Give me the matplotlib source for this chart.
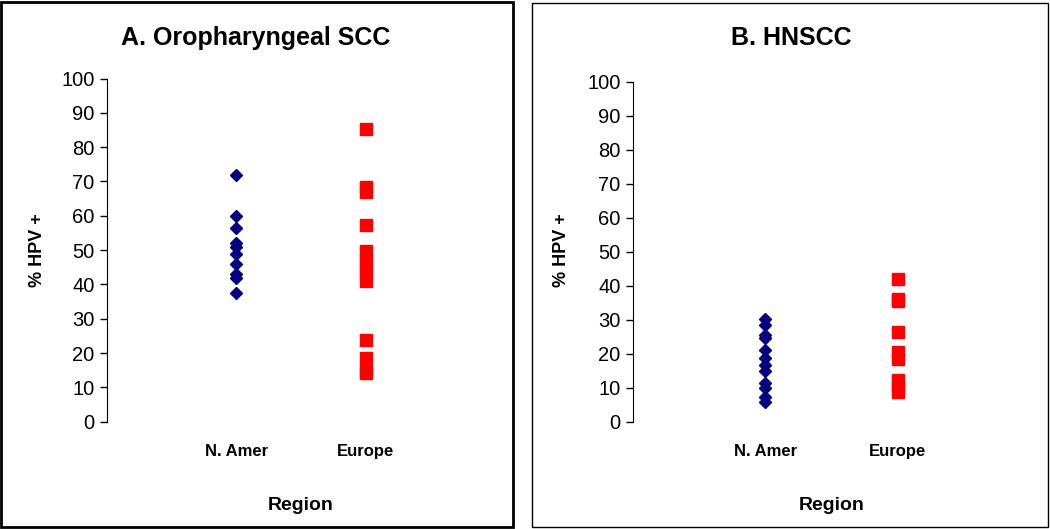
import matplotlib
matplotlib.use("Agg")
import matplotlib.pyplot as plt
from matplotlib.patches import Rectangle

plt.rcParams['font.family'] = ['Liberation Sans', 'DejaVu Sans']

regions = ["N. Amer", "Europe"]
y_ticks = list(range(0, 101, 10))

# A. Oropharyngeal SCC, % HPV+ per study
oro_namer = [72, 60, 56.5, 52, 51, 49, 46, 43, 42, 37.5]
oro_europe = [85.2, 68.4, 66.9, 57.3, 49.7, 47.5, 45.5, 43.5, 41, 23.7, 18.7, 14.8, 14.2]

# B. HNSCC, % HPV+ per study
hn_namer = [30.2, 28.5, 25.6, 24.5, 21.1, 18.7, 16.7, 14.9, 11.3, 9.8, 7.4, 5.9]
hn_europe = [42.1, 36.2, 35.5, 26.3, 20.6, 18.4, 12.3, 10.5, 8.7]

W, H = 1050, 529
fig = plt.figure(figsize=(W / 100, H / 100), dpi=100)

# panel frames
fig.patches.append(Rectangle((1 / W, 1 - 527 / H), 512 / W, 525 / H, transform=fig.transFigure,
                             fill=False, edgecolor='black', linewidth=2))
fig.patches.append(Rectangle((532 / W, 1 - 527 / H), 516 / W, 524 / H, transform=fig.transFigure,
                             fill=False, edgecolor='black', linewidth=1))


def panel(rect, namer, europe, title, title_x, ylab_x):
  ax = fig.add_axes(rect)
  ax.plot([1] * len(namer), namer, linestyle='none', marker='D', markersize=6,
          color='#000080')
  ax.plot([2] * len(europe), europe, linestyle='none', marker='s', markersize=8,
          color='#ff0000')
  ax.set_xlim(0, 3)
  ax.set_ylim(0, 100)
  ax.set_yticks(y_ticks)
  ax.tick_params(axis='y', labelsize=14.5, length=5, width=1, direction='out', pad=4)
  ax.set_xticks([1, 2])
  ax.set_xticklabels(regions, fontsize=12, fontweight='bold')
  ax.tick_params(axis='x', length=0, pad=16)
  for s in ['top', 'right', 'bottom']:
    ax.spines[s].set_visible(False)
  # axis titles placed in figure pixels
  cx = rect[0] + rect[2] / 2
  fig.text(cx, 1 - 505 / H, "Region", fontsize=14, fontweight='bold',
           ha='center', va='center')
  fig.text(ylab_x / W, 1 - 250 / H, "% HPV +", fontsize=13, fontweight='bold',
           ha='center', va='center', rotation=90)
  fig.text(title_x, 1 - 38 / H, title, fontsize=18, fontweight='bold',
           ha='center', va='center')
  return ax


panel([107 / W, 1 - 421.7 / H, 388 / W, 343.2 / H], oro_namer, oro_europe,
      "A. Oropharyngeal SCC", 256 / W, 38)
panel([633 / W, 1 - 421.7 / H, 397 / W, 340 / H], hn_namer, hn_europe,
      "B. HNSCC", 791 / W, 561)

fig.savefig("out.png", dpi=100)
